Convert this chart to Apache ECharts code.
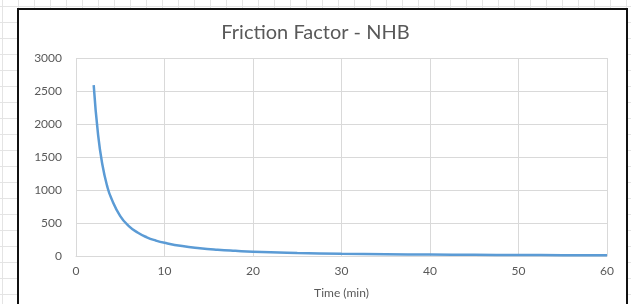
<!DOCTYPE html>
<html>
<head>
<meta charset="utf-8">
<script src="https://cdn.jsdelivr.net/npm/echarts@6/dist/echarts.min.js"></script>
<style>
html, body { margin: 0; padding: 0; }
body {
    width: 631px; height: 304px; overflow: hidden; position: relative;
    background-color: #fff;
    background-image:
        linear-gradient(to right, #e4e4e4 1px, transparent 1px),
        linear-gradient(to bottom, #e4e4e4 1px, transparent 1px);
    background-size: 16px 16px;
    background-position: 2px 6px;
}
#frame {
    position: absolute; left: 17px; top: 8px; width: 607px; height: 310px;
    background: #fff; border: 2px solid #111;
}
#main { position: absolute; left: 0; top: 0; width: 631px; height: 304px; }
</style>
</head>
<body>
<div id="frame"></div>
<div id="main"></div>
<script>
// 时间 (min) 与摩擦系数
var timeMin = [2, 2.5, 3, 3.5, 4, 5, 6, 7, 8, 9, 10, 12, 14, 16, 18, 20, 25, 30, 35, 40, 45, 50, 55, 60];
var friction = [2590, 1830, 1370, 1070, 870, 605, 450, 352, 283, 235, 200, 150, 118, 95, 78, 64, 46, 34, 27, 22, 18, 15, 13, 11];

var chartObj = {
    init : function() {
        var data = [];
        timeMin.forEach(function(item, index) {
            data.push([item, friction[index]]);
        });
        this.render(data);
    },
    render : function(data) {
        var mychart = echarts.init(document.getElementById('main'));
        var font = 'Lato, "Open Sans", sans-serif';
        var option = {
            animation : false,
            title : {
                text : 'Friction Factor - NHB',
                left : 'center',
                top : 18,
                textStyle : {
                    color : '#595959',
                    fontSize : 20,
                    fontWeight : 'normal',
                    fontFamily : font
                }
            },
            grid : {
                left : 76,
                right : 24,
                top : 58,
                bottom : 46
            },
            xAxis : {
                type : 'value',
                min : 0,
                max : 60,
                interval : 10,
                name : 'Time (min)',
                nameLocation : 'middle',
                nameGap : 31,
                nameTextStyle : {
                    color : '#595959',
                    fontSize : 12,
                    fontFamily : font
                },
                axisLine : {
                    show : true,
                    lineStyle : { color : '#d9d9d9' }
                },
                axisTick : { show : false },
                axisLabel : {
                    color : '#595959',
                    fontSize : 12,
                    fontFamily : font,
                    margin : 9
                },
                splitLine : {
                    show : true,
                    lineStyle : { color : '#d9d9d9' }
                }
            },
            yAxis : {
                type : 'value',
                min : 0,
                max : 3000,
                interval : 500,
                axisLine : { show : false },
                axisTick : { show : false },
                axisLabel : {
                    color : '#595959',
                    fontSize : 12,
                    fontFamily : font,
                    margin : 14,
                    formatter : function(v) { return String(v); }
                },
                splitLine : {
                    lineStyle : { color : '#d9d9d9' }
                }
            },
            series : [{
                type : 'line',
                data : data,
                smooth : true,
                showSymbol : false,
                lineStyle : {
                    color : '#5b9bd5',
                    width : 2.5
                }
            }]
        };
        mychart.setOption(option);
    }
};
chartObj.init();
</script>
</body>
</html>
